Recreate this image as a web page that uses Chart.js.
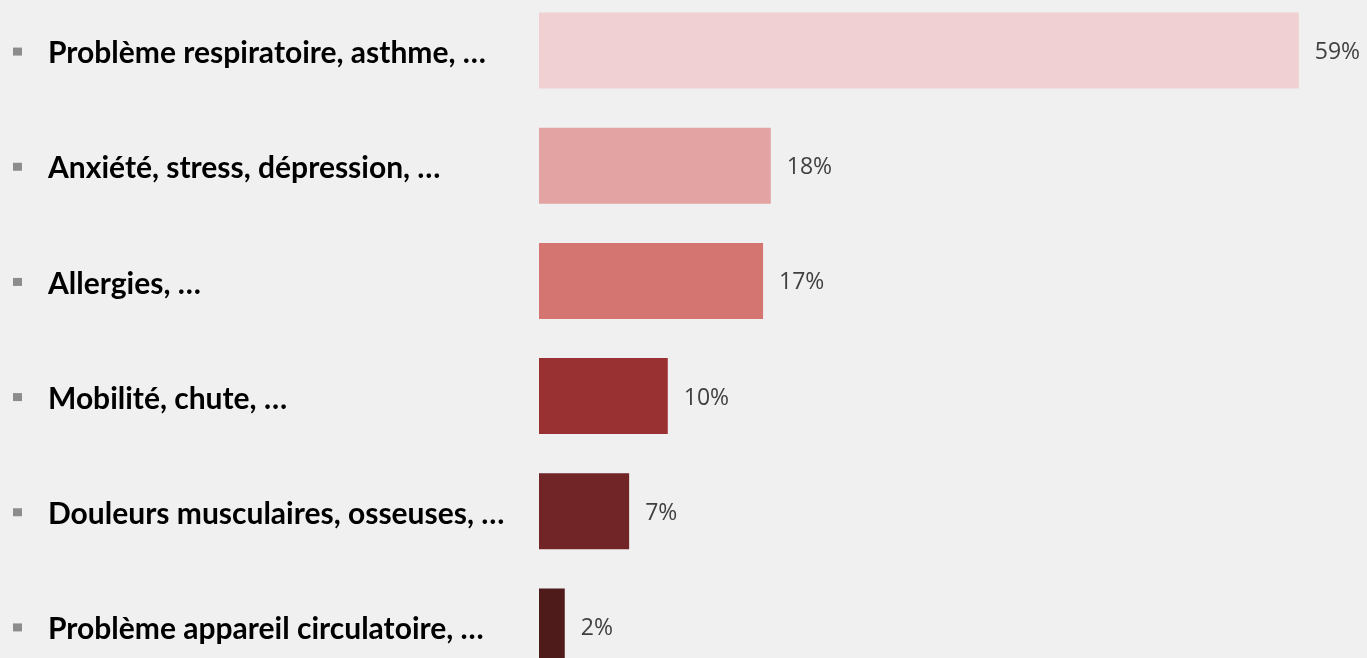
<!DOCTYPE html>
<html>
<head>
<meta charset="utf-8">
<script src="https://cdn.jsdelivr.net/npm/chart.js@4.4.1/dist/chart.umd.min.js"></script>
<style>
  html, body { margin: 0; padding: 0; background: #f0f0f0; overflow: hidden; }
  #wrap { position: absolute; left: 0; top: -25px; width: 1367px; height: 727px; }
</style>
</head>
<body>
<div id="wrap"><canvas id="chart"></canvas></div>
<script>
const categories = [
  "Problème respiratoire, asthme, …",
  "Anxiété, stress, dépression, …",
  "Allergies, …",
  "Mobilité, chute, …",
  "Douleurs musculaires, osseuses, …",
  "Problème appareil circulatoire, …"
];
const values = [59, 18, 17.4, 10, 7, 2];
const barColors = ["#f0d0d2", "#e3a3a3", "#d47572", "#993133", "#722526", "#4f1a1a"];

// bullets in front of the labels + value text at bar ends
const extras = {
  id: "extras",
  afterDatasetsDraw(chart) {
    const ctx = chart.ctx;
    const meta = chart.getDatasetMeta(0);
    ctx.save();
    meta.data.forEach((bar, i) => {
      ctx.fillStyle = "#8c8c8c";
      ctx.fillRect(13, bar.y - 3, 9, 8);
      ctx.fillStyle = "#404040";
      ctx.font = '23px "Open Sans"';
      ctx.textAlign = "left";
      ctx.textBaseline = "middle";
      ctx.fillText(Math.round(values[i]) + "%", bar.x + 16, bar.y + 2);
    });
    ctx.restore();
  }
};

new Chart(document.getElementById("chart"), {
  type: "bar",
  data: {
    labels: categories,
    datasets: [{
      data: values,
      backgroundColor: barColors,
      barPercentage: 0.66,
      categoryPercentage: 1
    }]
  },
  options: {
    indexAxis: "y",
    responsive: true,
    maintainAspectRatio: false,
    animation: false,
    layout: { padding: { left: 48, right: 0, top: 0, bottom: 0 } },
    plugins: { legend: { display: false }, tooltip: { enabled: false } },
    scales: {
      x: { display: false, min: 0, max: 64.3 },
      y: {
        grid: { display: false },
        border: { display: false },
        afterFit: (scale) => { scale.width = 491; },
        ticks: {
          crossAlign: "far",
          color: "#000000",
          padding: 0,
          labelOffset: 3,
          font: { family: "Lato", weight: "bold", size: 30 }
        }
      }
    }
  },
  plugins: [extras]
});
</script>
</body>
</html>
